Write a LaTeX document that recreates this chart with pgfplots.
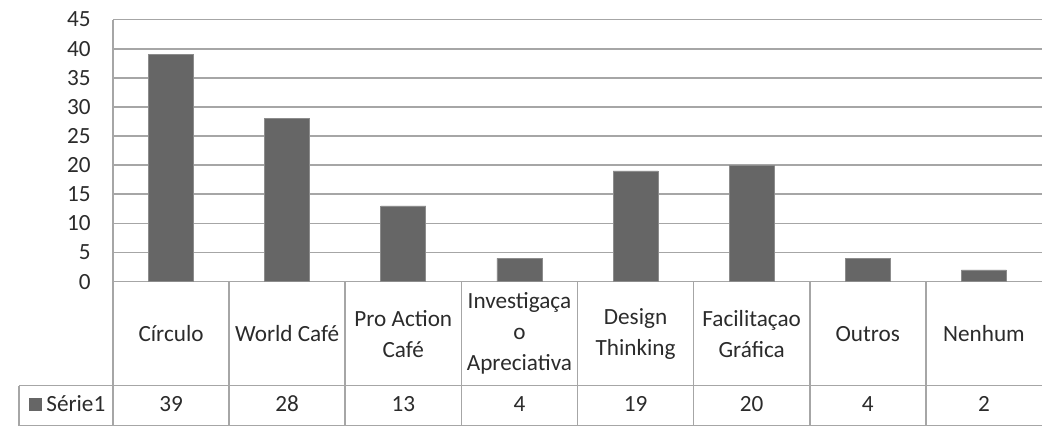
\documentclass[border=0pt]{standalone}
\usepackage{fontspec}
\setmainfont{Carlito}
\usepackage{pgfplots}
\usepackage{pgfplotstable}
\pgfplotsset{compat=1.18}

\definecolor{barfill}{HTML}{666666}
\definecolor{baredge}{HTML}{8C8C8C}
\definecolor{gridgray}{HTML}{A6A6A6}
\definecolor{txt}{HTML}{2B2B2B}

% count of answers per technique
\pgfplotstableread{
x v
0 39
1 28
2 13
3 4
4 19
5 20
6 4
7 2
}\data

\begin{document}
\begin{tikzpicture}[font=\fontsize{11.6}{14}\selectfont]
\path[use as bounding box] (-56.5pt,-75.5pt) rectangle (464.5pt,140.8pt);
\begin{axis}[
  scale only axis,
  width=464.5pt, height=131pt,
  xmin=-0.5, xmax=7.5,
  ymin=0, ymax=45,
  ytick={0,5,...,45},
  xtick={0,...,7},
  xticklabels={Círculo, World Café, {Pro Action\\Café}, {Investigaça\\o\\Apreciativa},
               {Design\\Thinking}, {Facilitaçao\\Gráfica}, Outros, Nenhum},
  xticklabel style={anchor=center, align=center, yshift=-26pt, text=txt,
                    font=\fontsize{11.6}{15.5}\selectfont},
  yticklabel style={anchor=east, xshift=-7.6pt, text=txt},
  /pgf/number format/assume math mode=true,
  major tick length=0pt,
  axis line style={draw=none},
  ymajorgrids,
  grid style={draw=gridgray, line width=0.85pt},
  clip=false,
]
  % table frame below the plot area
  \draw[gridgray, line width=0.85pt] (axis cs:-1.309,-17.86) -- (axis cs:7.5,-17.86);
  \draw[gridgray, line width=0.85pt] (axis cs:-1.309,-24.73) -- (axis cs:7.5,-24.73);
  \draw[gridgray, line width=0.85pt] (axis cs:-1.309,-17.86) -- (axis cs:-1.309,-24.73);
  \draw[gridgray, line width=0.85pt] (axis cs:-0.5,45) -- (axis cs:-0.5,-24.73);
  \pgfplotsinvokeforeach{0.5,1.5,2.5,3.5,4.5,5.5,6.5}{
    \draw[gridgray, line width=0.85pt] (axis cs:#1,0) -- (axis cs:#1,-24.73);
  }
  \node[text=txt, anchor=center, text height=1.6ex, text depth=0.3ex]
    at (axis cs:-0.895,-21.3)
    {\textcolor{barfill}{\rule[0.3pt]{6.5pt}{6.5pt}}\hspace{2.2pt}Série1};

  \addplot[ybar, bar width=22.5pt, fill=barfill, draw=baredge, line width=0.4pt]
    table[x=x, y=v] {\data};

  % values row of the data table
  \addplot[draw=none, mark=none, nodes near coords, point meta=explicit,
           every node near coord/.append style={anchor=center, text=txt,
             text height=1.6ex, text depth=0.3ex}]
    table[x=x, y expr=-21.3, meta=v] {\data};
\end{axis}
\end{tikzpicture}
\end{document}
